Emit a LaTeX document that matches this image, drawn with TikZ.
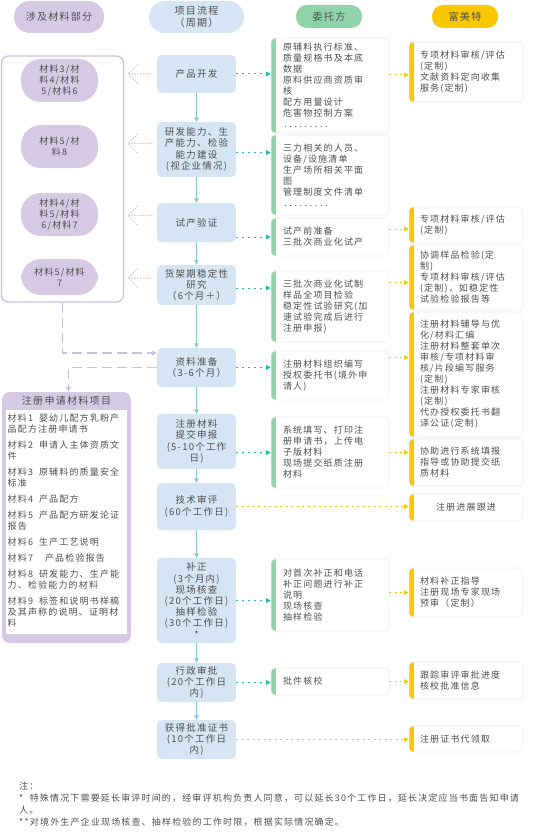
\documentclass[tikz,border=0pt]{standalone}
\usepackage{fontspec}
\setmainfont{Noto Sans CJK SC}[LetterSpace=13]
\usetikzlibrary{arrows.meta,positioning,calc}

\definecolor{matpurple}{HTML}{D5C9E4}
\definecolor{matline}{HTML}{CCBEE1}
\definecolor{flowblue}{HTML}{D5E5F4}
\definecolor{flowarrow}{HTML}{8CC4D9}
\definecolor{clientgreen}{HTML}{8FD4A8}
\definecolor{clientarrow}{HTML}{1FBF9E}
\definecolor{fmtyellow}{HTML}{F9C700}
\definecolor{textgray}{HTML}{4F4F4F}
\definecolor{boxline}{HTML}{EDEDED}

\tikzset{
  txt/.style={text=textgray, font=\fontsize{9}{11}\selectfont},
  head/.style={txt, rounded corners=11pt, align=center, font=\fontsize{10}{12}\selectfont},
  matpill/.style={txt, fill=matpurple, rounded corners=20pt, minimum width=77pt, minimum height=43pt, align=center},
  flow/.style={txt, fill=flowblue, rounded corners=5pt, minimum width=79pt, text width=77pt, inner xsep=1pt, inner ysep=2pt, align=center, font=\fontsize{9.5}{11.2}\selectfont},
  sidebox/.style={txt, draw=boxline, line width=0.6pt, fill=white, rounded corners=4pt, inner ysep=2pt, align=left},
  client/.style={sidebox, text width=94pt, inner xsep=12pt,
    path picture={\fill[clientgreen, sharp corners] (path picture bounding box.north west) rectangle ([xshift=5pt]path picture bounding box.south west);}},
  fmt/.style={sidebox, text width=92pt, inner xsep=11pt,
    path picture={\fill[fmtyellow, sharp corners] (path picture bounding box.north west) rectangle ([xshift=5pt]path picture bounding box.south west);}},
  flowarr/.style={flowarrow, line width=1pt, -{Triangle[length=4.5pt,width=4.5pt]}},
  toclient/.style={clientarrow, line width=1pt, dash pattern=on 2pt off 4pt, -{Triangle[length=4.5pt,width=4.5pt]}},
  tofmt/.style={fmtyellow, line width=1pt, dash pattern=on 2pt off 3.5pt, -{Triangle[length=4.5pt,width=4.5pt]}},
  matdash/.style={matline, line width=1.3pt, dash pattern=on 10pt off 5pt, -{Triangle[length=5pt,width=5pt]}},
  fandots/.style={matline, line width=1.6pt, line cap=round, dash pattern=on 0pt off 2.8pt},
}

% row of dots closing a list
\newcommand\dotrow{\hbox to 46pt{\xleaders\hbox to 5pt{\hss.\hss}\hfill}}
% dotted fan from a flow step back to the materials box
\newcommand\matfan[3]{%
  \draw[fandots] ([xshift=-5pt,yshift=#3]#1.west) -- ([xshift=4pt,yshift=#3]#1.west -| #2.east);
  \draw[fandots] ([xshift=13pt,yshift=#3+9pt]#1.west -| #2.east) -- ([xshift=4pt,yshift=#3]#1.west -| #2.east)
    -- ([xshift=13pt,yshift=#3-9pt]#1.west -| #2.east);
}

\begin{document}
\begin{tikzpicture}[x=1pt,y=-1pt]
\useasboundingbox (0,0) rectangle (538,832);

% Column heads
\node[head, fill=matpurple, minimum width=90pt, minimum height=32pt, rounded corners=16pt] (hmat) at (59,17) {涉及材料部分};
\node[head, fill=flowblue, minimum width=95pt, minimum height=32pt, rounded corners=16pt] (hflow) at (196.5,17) {项目流程\\（周期）};
\node[head, fill=clientgreen, minimum width=66pt, minimum height=23pt] (hclient) at (329,16.5) {委托方};
\node[head, fill=fmtyellow, minimum width=66pt, minimum height=23pt] (hfmt) at (465,16.5) {富美特};

% Materials involved
\node[draw=matline, line width=1.3pt, fill=white, rounded corners=7pt, minimum width=122pt, minimum height=246pt] (mats) at (62.5,179) {};
\node[matpill] (mat1) at (59.5,80.5) {材料3/材\\料4/材料\\5/材料6};
\node[matpill] (mat2) at (59.5,146.5) {材料5/材\\料8};
\node[matpill] (mat3) at (59.5,214.5) {材料4/材\\料5/材料\\6/材料7};
\node[matpill, minimum height=36pt] (mat4) at (59.5,277) {材料5/材料\\7};

% Flow steps
\node[flow, minimum height=38pt] (p1) at (196.5,74) {产品开发};
\node[flow, minimum height=55pt] (p2) at (196.5,149.5) {研发能力、生\\产能力、检验\\能力建设\\(视企业情况)};
\node[flow, minimum height=39pt] (p3) at (196.5,222.5) {试产验证};
\node[flow, minimum height=40pt] (p4) at (196.5,285) {货架期稳定性\\研究\\（6个月＋）};
\node[flow, minimum height=39pt] (p5) at (196.5,367.5) {资料准备\\（3-6个月）};
\node[flow, minimum height=55pt] (p6) at (196.5,441.5) {注册材料\\提交申报\\(5-10个工作\\日)};
\node[flow, minimum height=47pt] (p7) at (196.5,506.5) {技术审评\\(60个工作日)\\*};
\node[flow, minimum height=85pt] (p8) at (196.5,600.5) {补正\\(3个月内)\\现场核查\\(20个工作日)\\抽样检验\\(30个工作日)\\**};
\node[flow, minimum height=39pt] (p9) at (196.5,682.5) {行政审批\\(20个工作日\\内)};
\node[flow, minimum height=39pt] (p10) at (196.5,739.5) {获得批准证书\\(10个工作日\\内)};

% Client side
\node[client, minimum height=95pt] (g1) at (330,85.5) {原辅料执行标准、\\质量规格书及本底\\数据\\原料供应商资质审\\核\\配方用量设计\\危害物控制方案\\\dotrow};
\node[client, minimum height=80pt] (g2) at (330,175) {三力相关的人员、\\设备/设施清单\\生产场所相关平面\\图\\管理制度文件清单\\\dotrow};
\node[client, minimum height=38pt] (g3) at (330,237) {试产前准备\\三批次商业化试产};
\node[client, minimum height=71pt] (g4) at (330,306.5) {三批次商业化试制\\样品全项目检验\\稳定性试验研究(加\\速试验完成后进行\\注册申报)};
\node[client, minimum height=49pt] (g5) at (330,375.5) {注册材料组织编写\\授权委托书(境外申\\请人)};
\node[client, minimum height=71pt] (g6) at (330,452.5) {系统填写、打印注\\册申请书，上传电\\子版材料\\现场提交纸质注册\\材料};
\node[client, minimum height=72pt] (g7) at (330,595) {对首次补正和电话\\补正问题进行补正\\说明\\现场核查\\抽样检验};
\node[client, minimum height=27pt] (g8) at (330,681.5) {批件核校};

% Fumeite side
\node[fmt, minimum height=60pt] (y1) at (466,72) {专项材料审核/评估\\(定制)\\文献资料定向收集\\服务(定制)};
\node[fmt, minimum height=36pt] (y2) at (466,225) {专项材料审核/评估\\(定制)};
\node[fmt, minimum height=65pt] (y3) at (466,277.5) {协调样品检验(定\\制)\\专项材料审核/评估\\(定制)，如稳定性\\试验检验报告等};
\node[fmt, minimum height=125pt] (y4) at (466,374.5) {注册材料辅导与优\\化/材料汇编\\注册材料整套单次\\审核/专项材料审\\核/片段编写服务\\(定制)\\注册材料专家审核\\(定制)\\代办授权委托书翻\\译公证(定制)};
\node[fmt, minimum height=47pt] (y5) at (466,462.5) {协助进行系统填报\\指导或协助提交纸\\质材料};
\node[fmt, minimum height=27pt, align=center] (y6) at (466,507.5) {注册进展跟进};
\node[fmt, minimum height=49pt] (y7) at (466,592.5) {材料补正指导\\注册现场专家现场\\预审（定制）};
\node[fmt, minimum height=37pt] (y8) at (466,680.5) {跟踪审评审批进度\\核校批准信息};
\node[fmt, minimum height=26pt] (y9) at (466,739) {注册证书代领取};

% Registration material list
\node[fill=matpurple, rounded corners=8pt, minimum width=129pt, minimum height=251pt] (reg) at (66.5,517.5) {};
\node[txt, font=\fontsize{10}{12}\selectfont] (regtitle) at (66.5,400.5) {注册申请材料项目};
\node[fill=white, minimum width=121pt, minimum height=224pt] (reglist) at (66.5,522) {};
\node[txt, anchor=north west, text width=120pt, inner sep=0pt, align=left] (regitems) at (7.5,414) {%
材料1\ \ 婴幼儿配方乳粉产\\品配方注册申请书\\[5pt]
材料2\ \ 申请人主体资质文\\件\\[5pt]
材料3\ \ 原辅料的质量安全\\标准\\[5pt]
材料4\ \ 产品配方\\[5pt]
材料5\ \ 产品配方研发论证\\报告\\[5pt]
材料6\ \ 生产工艺说明\\[5pt]
材料7\ \ \ \ 产品检验报告\\[5pt]
材料8\ \ 研发能力、生产能\\力、检验能力的材料\\[5pt]
材料9\ \ 标签和说明书样稿\\及其声称的说明、证明材\\料};

% Flow arrows
\foreach \a/\b in {p1/p2,p2/p3,p3/p4,p4/p5,p5/p6,p6/p7,p7/p8,p8/p9,p9/p10}
  \draw[flowarr] (\a.south) -- (\b.north);

% Flow to client
\draw[toclient] (p1.east) -- (p1.east -| g1.west);
\draw[toclient] ([yshift=-3pt]p2.east) -- ([yshift=-3pt]p2.east -| g2.west);
\draw[toclient] (p3.east |- g3.west) -- (g3.west);
\draw[toclient] ([yshift=-3pt]p4.east) -- ([yshift=-3pt]p4.east -| g4.west);
\draw[toclient] (p5.east) -- (p5.east -| g5.west);
\draw[toclient] (p6.east |- g6.west) -- (g6.west);
\draw[toclient] (p8.east) -- (p8.east -| g7.west);
\draw[toclient] (p9.east) -- (p9.east -| g8.west);

% Client to Fumeite
\draw[tofmt] ([yshift=-3pt]g1.east |- y1.west) -- ([yshift=-3pt]y1.west);
\draw[tofmt] ([yshift=-4pt]g3.east |- y2.west) -- ([yshift=-4pt]y2.west);
\draw[tofmt] ([yshift=-5pt]g4.east |- y3.west) -- ([yshift=-5pt]y3.west);
\draw[tofmt] ([yshift=18pt]g5.east) -- ([yshift=18pt]g5.east -| y4.west);
\draw[tofmt] (g6.east) -- (g6.east -| y5.west);
\draw[tofmt] (g7.east |- y7.west) -- (y7.west);
\draw[tofmt] (g8.east) -- (g8.east -| y8.west);
\draw[tofmt] (p7.east) -- (p7.east -| y6.west);
\draw[tofmt] (p10.east) -- (p10.east -| y9.west);

% Steps that use the materials
\matfan{p1}{mats}{0pt}
\matfan{p2}{mats}{6pt}
\matfan{p3}{mats}{7pt}
\matfan{p4}{mats}{7pt}

\draw[matdash] (mats.south) |- ([yshift=14.5pt]p5.west);
\draw[matdash] (p5.west) -| ([xshift=2pt]reg.north);

% Notes
\node[txt, anchor=north west, inner sep=0pt, align=left, font=\fontsize{9}{12}\selectfont] (notes) at (19,782) {%
注：\\
*\ \ 特殊情况下需要延长审评时间的，经审评机构负责人同意，可以延长30个工作日，延长决定应当书面告知申请\\
人。\\
**对境外生产企业现场核查、抽样检验的工作时限，根据实际情况确定。};
\end{tikzpicture}
\end{document}
